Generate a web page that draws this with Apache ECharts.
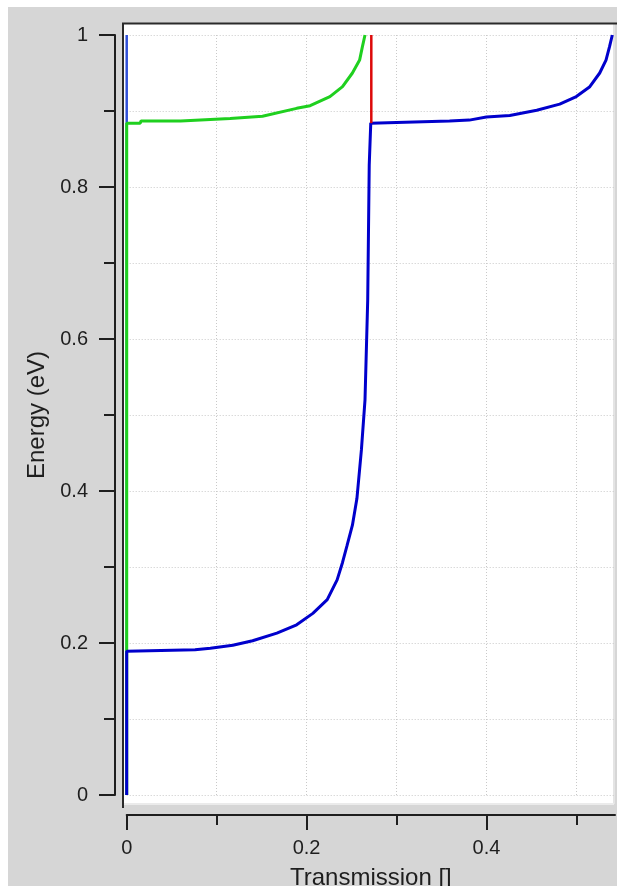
<!DOCTYPE html>
<html><head><meta charset="utf-8">
<script src="https://cdn.jsdelivr.net/npm/echarts@6/dist/echarts.min.js"></script>
<style>html,body{margin:0;padding:0;background:#fff;}#c{position:absolute;left:8px;top:7px;width:609px;height:879px;}</style>
</head><body><div id="c"></div>
<script>
// tick values
const xMajorTicks = [0, 0.2, 0.4];
const xMinorTicks = [0.1, 0.3, 0.5];
const yMajorTicks = [0, 0.2, 0.4, 0.6, 0.8, 1];
const yMinorTicks = [0.1, 0.3, 0.5, 0.7, 0.9];

// series values (Transmission, Energy)
const zeroT = [0, 0];
const zeroE = [0, 1];
const greenT = [0, 0, 0.015, 0.016, 0.060, 0.115, 0.151, 0.189, 0.204, 0.226, 0.240, 0.251, 0.259, 0.262, 0.265];
const greenE = [0, 0.884, 0.884, 0.887, 0.887, 0.890, 0.893, 0.9035, 0.907, 0.919, 0.932, 0.950, 0.967, 0.984, 1.0];
const blueT = [0, 0, 0.076, 0.093, 0.118, 0.140, 0.167, 0.189, 0.207, 0.223, 0.234, 0.240, 0.245, 0.251, 0.256, 0.261, 0.265, 0.268, 0.2697, 0.2714, 0.2714, 0.300, 0.359, 0.381, 0.400, 0.426, 0.456, 0.4815, 0.500, 0.515, 0.526, 0.533, 0.537, 0.540];
const blueE = [0, 0.189, 0.191, 0.193, 0.197, 0.203, 0.213, 0.224, 0.239, 0.257, 0.283, 0.306, 0.328, 0.355, 0.390, 0.454, 0.52, 0.651, 0.829, 0.831, 0.884, 0.885, 0.887, 0.888, 0.892, 0.894, 0.901, 0.909, 0.919, 0.932, 0.950, 0.967, 0.985, 1.0];
const redT = [0.272, 0.272];
const redE = [0.884, 1.0];

const zip = (a, b) => a.map((v, i) => [v, b[i]]);
const FONT = 'Liberation Sans';
const INK = '#1e1e1e';
const gridLine = { show: true, lineStyle: { color: '#c9c9c9', width: 1, type: [1, 2] } };
const gridBox = { left: 118.7, right: 2, top: 28, bottom: 91, containLabel: false, outerBoundsMode: 'none' };

const chart = echarts.init(document.getElementById('c'), null, { renderer: 'canvas' });
chart.setOption({
  backgroundColor: '#d6d6d6',
  animation: false,
  graphic: { elements: [
    { type: 'rect', z: -10, shape: { x: 115, y: 16, width: 491, height: 780 }, style: { fill: '#ffffff' } },
    { type: 'line', z: -9, shape: { x1: 606, y1: 16, x2: 606, y2: 797 }, style: { stroke: '#e4e4e4', lineWidth: 2 } },
    { type: 'line', z: -9, shape: { x1: 115, y1: 797, x2: 606, y2: 797 }, style: { stroke: '#ebebeb', lineWidth: 2 } },
    { type: 'line', z: -8, shape: { x1: 114, y1: 16.5, x2: 609, y2: 16.5 }, style: { stroke: '#2a2a2a', lineWidth: 2 } },
    { type: 'line', z: -8, shape: { x1: 115, y1: 16, x2: 115, y2: 801 }, style: { stroke: '#2a2a2a', lineWidth: 2 } }
  ] },
  grid: [Object.assign({}, gridBox), Object.assign({}, gridBox)],
  xAxis: [
    {
      gridIndex: 0, type: 'value', min: 0, max: 0.543, interval: 0.1, position: 'bottom', offset: 20,
      name: 'Transmission []', nameLocation: 'middle', nameGap: 51,
      nameTextStyle: { fontFamily: FONT, fontSize: 24, color: INK },
      axisLine: { show: true, onZero: false, lineStyle: { color: INK, width: 2 } },
      axisTick: { show: true, customValues: xMajorTicks, length: 15, lineStyle: { color: INK, width: 2 } },
      axisLabel: { show: true, customValues: xMajorTicks, margin: 23, fontFamily: FONT, fontSize: 20, color: INK },
      splitLine: gridLine
    },
    {
      gridIndex: 1, type: 'value', min: 0, max: 0.543, interval: 0.1, position: 'bottom', offset: 20,
      axisLine: { show: false, onZero: false },
      axisTick: { show: true, customValues: xMinorTicks, length: 10, lineStyle: { color: INK, width: 2 } },
      axisLabel: { show: false },
      splitLine: gridLine
    }
  ],
  yAxis: [
    {
      gridIndex: 0, type: 'value', min: 0, max: 1, interval: 0.1, position: 'left', offset: 11.7,
      name: 'Energy (eV)', nameLocation: 'middle', nameGap: 66,
      nameTextStyle: { fontFamily: FONT, fontSize: 24, color: INK },
      axisLine: { show: true, onZero: false, lineStyle: { color: INK, width: 2 } },
      axisTick: { show: true, customValues: yMajorTicks, length: 16, lineStyle: { color: INK, width: 2 } },
      axisLabel: { show: true, customValues: yMajorTicks, margin: 27, fontFamily: FONT, fontSize: 20, color: INK },
      splitLine: gridLine
    },
    {
      gridIndex: 1, type: 'value', min: 0, max: 1, interval: 0.1, position: 'left', offset: 11.7,
      axisLine: { show: false, onZero: false },
      axisTick: { show: true, customValues: yMinorTicks, length: 11, lineStyle: { color: INK, width: 2 } },
      axisLabel: { show: false },
      splitLine: gridLine
    }
  ],
  series: [
    { type: 'line', data: zip(zeroT, zeroE), showSymbol: false, clip: false, lineStyle: { color: '#3050d8', width: 2.5 }, z: 3 },
    { type: 'line', data: zip(greenT, greenE), showSymbol: false, clip: false, lineStyle: { color: '#1fd01f', width: 3 }, z: 4 },
    { type: 'line', data: zip(blueT, blueE), showSymbol: false, clip: false, lineStyle: { color: '#0000cc', width: 3 }, z: 5 },
    { type: 'line', data: zip(redT, redE), showSymbol: false, clip: false, lineStyle: { color: '#dd0a0a', width: 2.5 }, z: 6 }
  ]
});
</script>
</body></html>
